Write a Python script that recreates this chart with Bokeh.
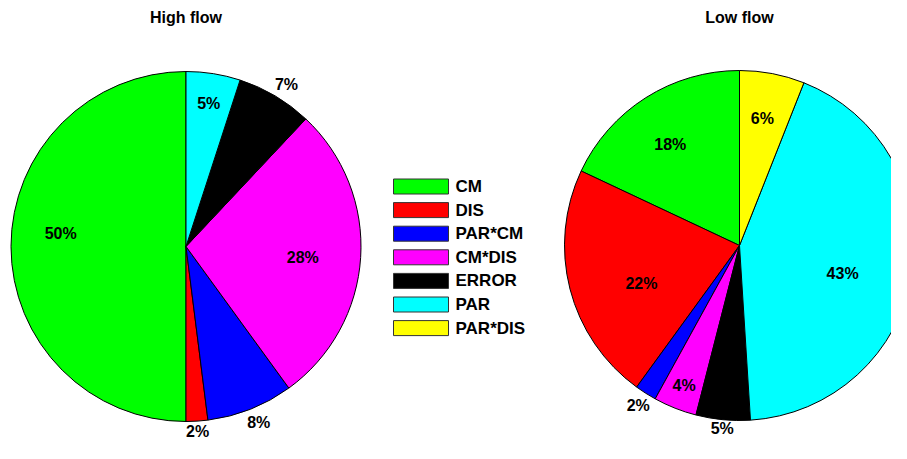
import numpy as np
from bokeh.plotting import figure
from bokeh.models import Range1d, ColumnDataSource
from bokeh.core.properties import value
from bokeh.embed import file_html
from bokeh.resources import INLINE

# ---- data ----
categories = ["CM", "DIS", "PAR*CM", "CM*DIS", "ERROR", "PAR", "PAR*DIS"]
colors = ["#00FF00", "#FF0000", "#0000FF", "#FF00FF", "#000000", "#00FFFF", "#FFFF00"]
high_flow = [50, 2, 8, 28, 7, 5, 0]
low_flow = [18, 22, 2, 4, 5, 43, 6]
titles = ["High flow", "Low flow"]

# label placement (style): fraction of radius and angular nudge in degrees
high_label_r = [0.72, 1.06, 1.09, 0.67, 1.09, 0.83, 1.1]
high_label_da = [-6, 0, 0.8, -1.7, -1.2, 0, 0]
low_label_r = [0.70, 0.60, 1.08, 0.86, 1.05, 0.61, 0.74]
low_label_da = [2, 6.6, 0, 0, 0, -6, 0.6]

W, H = 891, 443
FONT = value("Liberation Sans")

p = figure(width=W, height=H, output_backend="svg", toolbar_location=None,
           x_range=Range1d(0, W), y_range=Range1d(459 - H, 459),
           min_border=0, outline_line_color=None)
p.axis.visible = False
p.grid.visible = False
p.background_fill_color = "white"
p.border_fill_color = "white"

def Y(page_y):
    return 459 - page_y

R = 175
centers = [(185.5, Y(246)), (739, Y(245))]
title_y = Y(17)

for (cx, cy), vals, lr, lda, title in zip(
        centers, [high_flow, low_flow], [high_label_r, low_label_r],
        [high_label_da, low_label_da], titles):
    vals = np.array(vals, dtype=float)
    frac = vals / vals.sum()
    start = np.pi / 2 + 2 * np.pi * np.concatenate([[0], np.cumsum(frac)[:-1]])
    end = start + 2 * np.pi * frac
    keep = vals > 0
    src = ColumnDataSource(dict(
        start=start[keep], end=end[keep],
        color=[c for c, k in zip(colors, keep) if k]))
    p.wedge(x=cx, y=cy, radius=R, start_angle="start", end_angle="end",
            fill_color="color", line_color="black", line_width=1, source=src)
    mid = (start + end) / 2 + np.radians(lda)
    lr = np.array(lr)
    lx = cx + lr * R * np.cos(mid)
    ly = cy + lr * R * np.sin(mid)
    lsrc = ColumnDataSource(dict(x=lx[keep], y=ly[keep],
                                 t=[f"{int(v)}%" for v in vals[keep]]))
    p.text(x="x", y="y", text="t", source=lsrc, text_align="center",
           text_baseline="middle", text_font=FONT, text_font_style="bold",
           text_font_size="16px", text_color="black")
    p.text(x=[cx], y=[title_y], text=[title], text_align="center",
           text_baseline="middle", text_font=FONT, text_font_style="bold",
           text_font_size="16px", text_color="black")

# legend
n = len(categories)
idx = np.arange(n)
box_x = 420.5
box_y = Y(186 + 23.6 * idx)
lg = ColumnDataSource(dict(x=[box_x] * n, y=box_y, c=colors,
                           tx=[455] * n, t=categories))
p.rect(x="x", y="y", width=55, height=15, fill_color="c",
       line_color="#333333", line_width=1, source=lg)
p.text(x="tx", y="y", text="t", source=lg, text_align="left",
       text_baseline="middle", text_font=FONT, text_font_style="bold",
       text_font_size="17px", text_color="black")

open("out.html", "w").write(file_html(p, INLINE))
